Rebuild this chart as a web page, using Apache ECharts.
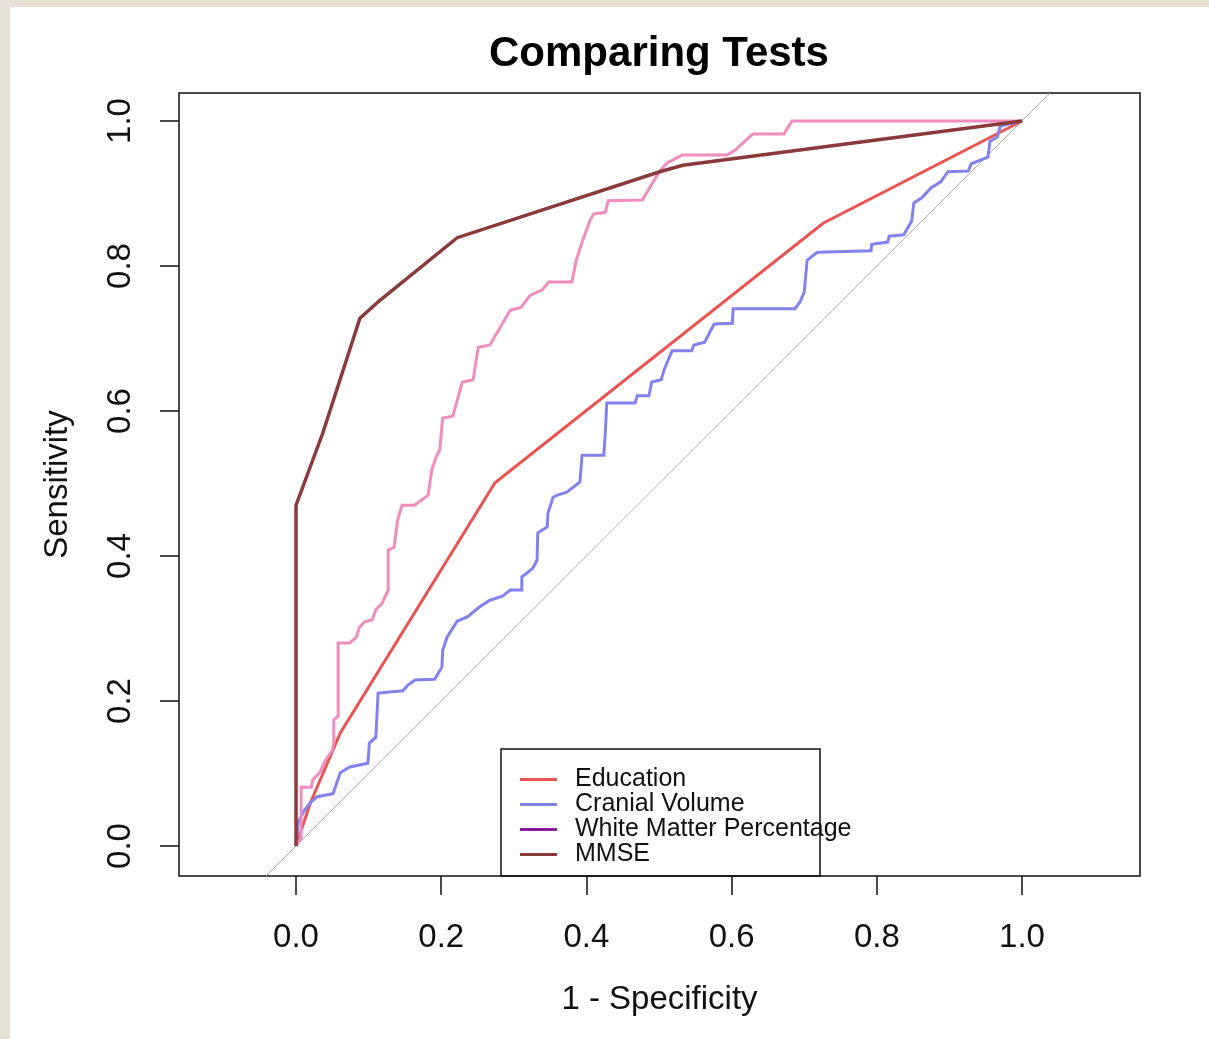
<!DOCTYPE html>
<html>
<head>
<meta charset="utf-8">
<script src="https://cdn.jsdelivr.net/npm/echarts@6/dist/echarts.min.js"></script>
<style>
  html, body { margin:0; padding:0; width:1209px; height:1039px; overflow:hidden; background:#E7E1D5; }
  #paper { position:absolute; left:10px; top:7px; width:1199px; height:1032px; background:#ffffff; }
  #chart { position:absolute; left:0; top:0; width:1209px; height:1039px; }
</style>
</head>
<body>
<div id="paper"></div>
<div id="chart"></div>
<script>
// ---- data ----
const titleText = 'Comparing Tests';
const xAxisTitle = '1 - Specificity';
const yAxisTitle = 'Sensitivity';
const tickValues = [0, 0.2, 0.4, 0.6, 0.8, 1.0];
const tickLabels = ['0.0', '0.2', '0.4', '0.6', '0.8', '1.0'];
const seriesNames = ['Education', 'Cranial Volume', 'White Matter Percentage', 'MMSE'];

// [1 - specificity, sensitivity]
const educationROC = [
  [0, 0], [0.02, 0.06], [0.061, 0.156], [0.274, 0.501], [0.726, 0.859], [1, 1]
];
const cranialROC = [
  [0,0],[0.003,0.033],[0.012,0.050],[0.019,0.059],[0.029,0.068],[0.051,0.072],[0.061,0.101],
  [0.074,0.109],[0.099,0.114],[0.101,0.142],[0.110,0.150],[0.113,0.211],[0.147,0.214],
  [0.154,0.222],[0.164,0.229],[0.191,0.230],[0.201,0.247],[0.202,0.270],[0.208,0.288],
  [0.222,0.310],[0.236,0.316],[0.253,0.330],[0.267,0.339],[0.285,0.345],[0.295,0.353],
  [0.311,0.353],[0.311,0.371],[0.326,0.383],[0.332,0.394],[0.333,0.432],[0.346,0.440],
  [0.347,0.459],[0.354,0.481],[0.360,0.484],[0.373,0.488],[0.382,0.495],[0.391,0.502],
  [0.394,0.539],[0.424,0.539],[0.426,0.570],[0.428,0.611],[0.467,0.611],[0.470,0.621],
  [0.486,0.621],[0.490,0.640],[0.503,0.643],[0.507,0.657],[0.515,0.676],[0.518,0.683],
  [0.545,0.683],[0.548,0.691],[0.563,0.695],[0.570,0.709],[0.576,0.720],[0.601,0.721],
  [0.602,0.741],[0.687,0.741],[0.694,0.750],[0.700,0.764],[0.704,0.808],[0.718,0.819],
  [0.792,0.821],[0.793,0.830],[0.815,0.833],[0.817,0.841],[0.837,0.843],[0.848,0.862],
  [0.851,0.887],[0.862,0.894],[0.875,0.908],[0.888,0.916],[0.898,0.930],[0.926,0.931],
  [0.930,0.941],[0.953,0.950],[0.956,0.972],[0.966,0.978],[0.970,0.993],[1,1]
];
const whiteMatterROC = [
  [0,0],[0.007,0.011],[0.007,0.081],[0.021,0.081],[0.023,0.091],[0.033,0.102],[0.041,0.119],
  [0.050,0.132],[0.052,0.143],[0.052,0.174],[0.058,0.179],[0.058,0.280],[0.074,0.280],
  [0.083,0.288],[0.087,0.301],[0.094,0.309],[0.105,0.312],[0.110,0.326],[0.118,0.334],
  [0.127,0.353],[0.127,0.408],[0.135,0.412],[0.140,0.450],[0.146,0.470],[0.163,0.470],
  [0.182,0.484],[0.187,0.519],[0.194,0.539],[0.198,0.546],[0.202,0.590],[0.216,0.593],
  [0.229,0.640],[0.244,0.643],[0.251,0.688],[0.267,0.691],[0.295,0.739],[0.310,0.743],
  [0.322,0.759],[0.339,0.767],[0.348,0.778],[0.380,0.778],[0.386,0.808],[0.395,0.836],
  [0.405,0.863],[0.410,0.872],[0.426,0.874],[0.430,0.890],[0.477,0.891],[0.501,0.931],
  [0.511,0.942],[0.532,0.953],[0.594,0.953],[0.605,0.960],[0.629,0.982],[0.672,0.982],
  [0.683,1.0],[1,1]
];
const mmseROC = [
  [0,0],[0,0.47],[0.037,0.57],[0.088,0.728],[0.116,0.753],[0.222,0.839],[0.501,0.930],
  [0.533,0.939],[1,1]
];
const chanceLine = [[-0.0414, -0.0414], [1.0386, 1.0386]];

const lineColors = ['#E9544F', '#8282EE', '#F08DBE', '#8B3A3A'];
const legendColors = ['#E9544F', '#8282EE', '#8C1A9C', '#8B3A3A'];

const FONT = "'Liberation Sans', Arial, Helvetica, sans-serif";
const chart = echarts.init(document.getElementById('chart'), null, { renderer: 'canvas' });

function tickFmt(v) {
  for (let i = 0; i < tickValues.length; i++) {
    if (Math.abs(tickValues[i] - v) < 1e-6) return tickLabels[i];
  }
  return '';
}

const curves = [educationROC, cranialROC, whiteMatterROC, mmseROC];
const widths = [3, 3, 3, 3.5];

const series = [{
  name: 'chance',
  type: 'line',
  data: chanceLine,
  symbol: 'none',
  silent: true,
  lineStyle: { color: '#ABABAB', width: 1 },
  itemStyle: { color: '#ABABAB' },
  z: 1
}];
curves.forEach((c, i) => {
  series.push({
    name: seriesNames[i],
    type: 'line',
    data: c,
    symbol: 'none',
    animation: false,
    lineStyle: { color: lineColors[i], width: widths[i], join: 'miter' },
    itemStyle: { color: legendColors[i] },
    z: 2 + i
  });
});

chart.setOption({
  animation: false,
  backgroundColor: 'transparent',
  title: {
    text: titleText,
    left: 659,
    top: 33,
    padding: 0,
    textAlign: 'center',
    textStyle: { fontFamily: FONT, fontWeight: 'bold', fontSize: 42, color: '#000' }
  },
  grid: {
    left: 179, top: 93, width: 961, height: 783,
    show: true, borderColor: '#111', borderWidth: 1.5, backgroundColor: 'transparent',
    containLabel: false
  },
  legend: {
    data: seriesNames.map((n, i) => ({ name: n, itemStyle: { color: legendColors[i] } })),
    orient: 'vertical',
    left: 520,
    top: 767,
    padding: 0,
    itemGap: 0,
    itemWidth: 37,
    itemHeight: 3,
    icon: 'rect',
    selectedMode: false,
    textStyle: { fontFamily: FONT, fontSize: 25, lineHeight: 25, color: '#111', padding: [0, 0, 0, 13] }
  },
  graphic: [{
    type: 'rect',
    shape: { x: 501, y: 749, width: 319, height: 127 },
    style: { fill: 'none', stroke: '#111', lineWidth: 1.5 },
    z: 100
  }],
  xAxis: {
    type: 'value',
    min: -0.1612, max: 1.1625,
    position: 'bottom',
    name: xAxisTitle,
    nameLocation: 'middle',
    nameGap: 107,
    nameTextStyle: { fontFamily: FONT, fontSize: 33, color: '#111' },
    axisLine: { show: false, onZero: false },
    splitLine: { show: false },
    axisTick: { show: true, inside: false, customValues: tickValues, length: 19, lineStyle: { color: '#111', width: 1.5 } },
    axisLabel: { customValues: tickValues, formatter: tickFmt, margin: 45, fontFamily: FONT, fontSize: 33, color: '#111' }
  },
  yAxis: {
    type: 'value',
    min: -0.0414, max: 1.0386,
    position: 'left',
    name: yAxisTitle,
    nameLocation: 'middle',
    nameGap: 105,
    nameTextStyle: { fontFamily: FONT, fontSize: 33, color: '#111' },
    axisLine: { show: false, onZero: false },
    splitLine: { show: false },
    axisTick: { show: true, inside: false, customValues: tickValues, length: 19, lineStyle: { color: '#111', width: 1.5 } },
    axisLabel: { customValues: tickValues, formatter: tickFmt, rotate: 90, margin: 42, fontFamily: FONT, fontSize: 33, color: '#111' }
  },
  series: series
});
</script>
</body>
</html>
